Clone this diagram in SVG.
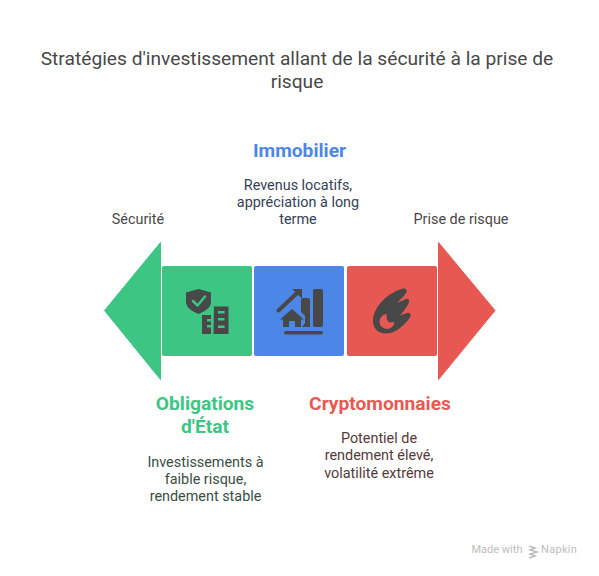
<svg xmlns="http://www.w3.org/2000/svg" width="599" height="576" viewBox="0 0 599 576">
<style>
text{font-family:Roboto,"Liberation Sans",sans-serif}
.t{font-size:19.2px;fill:#484848;text-anchor:middle}
.b{font-size:14.400px;fill:#484848;text-anchor:middle}
.bb{fill:#344157}
.bg{fill:#3a4d45}
.br{fill:#553a3a}
.h{font-size:19.200px;font-weight:700;text-anchor:middle}
.i{fill:#484848}
</style>
<rect width="599" height="576" fill="#fff"/>
<text class="t" x="297" y="65">Stratégies d'investissement allant de la sécurité à la prise de</text>
<text class="t" x="297" y="88">risque</text>
<g id="left-arrow"><path d="M160.500 242.500V379.500L104.500 310.500Z" fill="#3cc583" stroke="#3cc583" stroke-linejoin="round"/></g>
<g id="obligations"><rect x="162" y="266" width="90" height="90" rx="2" fill="#3cc583"/>
<path class="i" d="M198.500 289L211 292.500V302C211 307 206 311 198.500 314C191 311 186 307 186 302V292.500Z"/>
<path d="M193 301L197.500 305.500L205 296.500" fill="none" stroke="#3cc583" stroke-width="2.500" stroke-linecap="round" stroke-linejoin="round"/>
<path class="i" fill-rule="evenodd" d="M214 306.500H228.500V334H213.500ZM218 311V313.500H224.500V311ZM218 318V320.500H224.500V318ZM218 325.500V328H224.500V325.500ZM202 315H211V319H207V321.500H211V325H207V327.500H211V334H202Z"/></g>
<g id="immobilier"><rect x="254" y="266" width="90" height="90" rx="2" fill="#4c86e6"/>
<path d="M278.500 310.500L297 293" fill="none" stroke="#484848" stroke-width="4" stroke-linecap="round"/>
<path class="i" d="M292 289H302V298.500Z"/>
<path class="i" d="M292 309L304 319.500H301V327H295V321H289V327H283V319.500H280Z"/>
<path class="i" d="M301 300C301 299 302 298 303 298H308C309 298 310 299 310 300V327H302L305 323V316L301 312Z"/>
<rect class="i" x="313" y="289" width="10" height="38" rx="2"/>
<rect class="i" x="284" y="331" width="39" height="3.500" rx="1.700"/></g>
<g id="crypto"><rect x="347" y="266" width="90" height="90" rx="2" fill="#e85852"/>
<path class="i" fill-rule="evenodd" d="M403 288.500C390 292 375 304 373 319C372 329 379 334 387 333.500C396 333 405 325 410.500 316.500C411.500 313.500 409 312 407 313L400 315.500C403 312 407 307 409 302.500C410 299.500 408 298 406 299L397 303C400 300 404 296 406.500 292.500C407.500 290 405.500 288 403 288.500ZM386.500 314A7.500 7.500 0 1 0 394.500 322L389.500 322.500L387 320Z"/></g>
<g id="labels">
<text class="b" x="138" y="224">Sécurité</text>
<text class="b" x="461" y="224">Prise de risque</text>
<text class="h" x="299.500" y="157" fill="#4c86e6">Immobilier</text>
<text class="b bb" x="298" y="190">Revenus locatifs,</text>
<text class="b bb" x="298" y="207">appréciation à long</text>
<text class="b bb" x="298" y="224">terme</text>
<text class="h" x="205" y="410" fill="#3cc583">Obligations</text>
<text class="h" x="205" y="433" fill="#3cc583">d'État</text>
<text class="b bg" x="205.500" y="467">Investissements à</text>
<text class="b bg" x="205.500" y="484">faible risque,</text>
<text class="b bg" x="205.500" y="501">rendement stable</text>
<text class="h" x="380" y="410" fill="#e85852">Cryptomonnaies</text>
<text class="b br" x="379" y="443">Potentiel de</text>
<text class="b br" x="379" y="460">rendement élevé,</text>
<text class="b br" x="379" y="478">volatilité extrême</text>
</g>
<g id="right-arrow"><path d="M438.500 242.500V379.500L495 310.500Z" fill="#e85852" stroke="#e85852" stroke-linejoin="round"/></g>
<g id="footer"><text x="471.500" y="553" font-size="11" fill="#bdbdbd">Made with</text>
<path d="M529 546L535 548L530 550L537 552L530 554L535 556L529 558" fill="none" stroke="#bdbdbd" stroke-width="1.500"/>
<text x="541" y="553" font-size="11" letter-spacing="0.300" fill="#bdbdbd">Napkin</text></g>
</svg>
